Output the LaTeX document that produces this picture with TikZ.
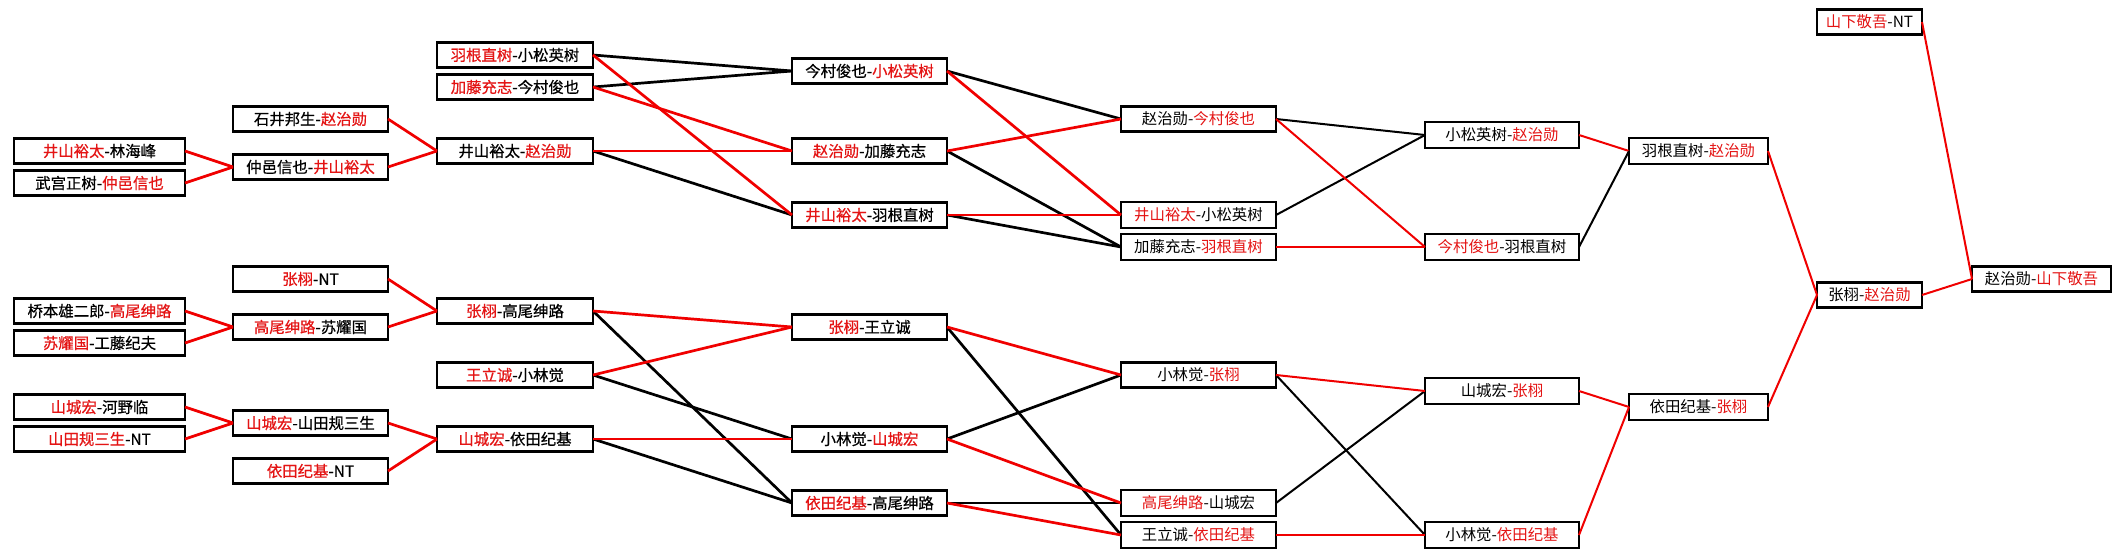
\documentclass[tikz,border=0pt]{standalone}
\usepackage{fontspec}
\newfontfamily\cjk{Noto Sans CJK SC}
\newfontfamily\cjkm{Noto Sans CJK SC}[FakeBold=0.6]
\definecolor{wred}{RGB}{228,20,20}
\definecolor{lred}{RGB}{240,0,0}
\newcommand\rd[1]{\textcolor{wred}{#1}}
\begin{document}
\begin{tikzpicture}[x=0.5pt,y=-0.5pt,
  bx/.style={draw, line width=1.4pt, inner sep=0pt, outer sep=0pt, minimum height=12.8pt,
     font=\cjkm\fontsize{7.7}{8}\selectfont, text=black},
  tb/.style={bx, line width=1pt, font=\cjk\fontsize{7.7}{8}\selectfont},
  rb/.style={bx, font=\cjk\fontsize{7.7}{8}\selectfont},
  w1/.style={minimum width=85.5pt}, w2/.style={minimum width=77.5pt},
  w3/.style={minimum width=78pt}, w4/.style={minimum width=77.5pt},
  w5/.style={minimum width=77.5pt}, w6/.style={minimum width=77pt},
  w7/.style={minimum width=69.5pt}, w8/.style={minimum width=52.5pt},
  w9/.style={minimum width=69.5pt},
  la/.style={line width=1.35pt}, lb/.style={line width=1pt},
  ra/.style={la, draw=lred}, rbl/.style={lb, draw=lred},
  ka/.style={la, draw=black}, kb/.style={lb, draw=black}]
\useasboundingbox (0,0) rectangle (2121,557);
\fill[white] (0,0) rectangle (2121,557);
% column 1
\node[bx,w1] (n11) at (99.5,151) {\rd{井山裕太}-林海峰};
\node[bx,w1] (n12) at (99.5,183) {武宫正树-\rd{仲邑信也}};
\node[bx,w1] (n13) at (99.5,311) {桥本雄二郎-\rd{高尾绅路}};
\node[bx,w1] (n14) at (99.5,343) {\rd{苏耀国}-工藤纪夫};
\node[bx,w1] (n15) at (99.5,407) {\rd{山城宏}-河野临};
\node[bx,w1] (n16) at (99.5,439) {\rd{山田规三生}-NT};
% column 2
\node[bx,w2] (n21) at (310.5,119) {石井邦生-\rd{赵治勋}};
\node[bx,w2] (n22) at (310.5,167) {仲邑信也-\rd{井山裕太}};
\node[bx,w2] (n23) at (310.5,279) {\rd{张栩}-NT};
\node[bx,w2] (n24) at (310.5,327) {\rd{高尾绅路}-苏耀国};
\node[bx,w2] (n25) at (310.5,423) {\rd{山城宏}-山田规三生};
\node[bx,w2] (n26) at (310.5,471) {\rd{依田纪基}-NT};
% column 3
\node[bx,w3] (n31) at (515,55) {\rd{羽根直树}-小松英树};
\node[bx,w3] (n32) at (515,87) {\rd{加藤充志}-今村俊也};
\node[bx,w3] (n33) at (515,151) {井山裕太-\rd{赵治勋}};
\node[bx,w3] (n34) at (515,311) {\rd{张栩}-高尾绅路};
\node[bx,w3] (n35) at (515,375) {\rd{王立诚}-小林觉};
\node[bx,w3] (n36) at (515,439) {\rd{山城宏}-依田纪基};
% column 4
\node[bx,w4] (n41) at (869.5,71) {今村俊也-\rd{小松英树}};
\node[bx,w4] (n42) at (869.5,151) {\rd{赵治勋}-加藤充志};
\node[bx,w4] (n43) at (869.5,215) {\rd{井山裕太}-羽根直树};
\node[bx,w4] (n44) at (869.5,327) {\rd{张栩}-王立诚};
\node[bx,w4] (n45) at (869.5,439) {小林觉-\rd{山城宏}};
\node[bx,w4] (n46) at (869.5,503) {\rd{依田纪基}-高尾绅路};
% column 5
\node[rb,w5] (n51) at (1198.5,119) {赵治勋-\rd{今村俊也}};
\node[tb,w5] (n52) at (1198.5,215) {\rd{井山裕太}-小松英树};
\node[tb,w5] (n53) at (1198.5,247) {加藤充志-\rd{羽根直树}};
\node[rb,w5] (n54) at (1198.5,375) {小林觉-\rd{张栩}};
\node[tb,w5] (n55) at (1198.5,503) {\rd{高尾绅路}-山城宏};
\node[tb,w5] (n56) at (1198.5,535) {王立诚-\rd{依田纪基}};
% column 6
\node[tb,w6] (n61) at (1502,135) {小松英树-\rd{赵治勋}};
\node[tb,w6] (n62) at (1502,247) {\rd{今村俊也}-羽根直树};
\node[tb,w6,line width=1.2pt] (n63) at (1502,391) {山城宏-\rd{张栩}};
\node[tb,w6,line width=1.2pt] (n64) at (1502,535) {小林觉-\rd{依田纪基}};
% column 7
\node[tb,w7] (n71) at (1698.5,151) {羽根直树-\rd{赵治勋}};
\node[tb,w7] (n72) at (1698.5,407) {依田纪基-\rd{张栩}};
% column 8
\node[rb,w8] (n81) at (1869.5,22) {\rd{山下敬吾}-NT};
\node[rb,w8] (n82) at (1869.5,295) {张栩-\rd{赵治勋}};
% column 9
\node[rb,w9] (n91) at (2041.5,279) {赵治勋-\rd{山下敬吾}};
% connectors column 1 -> 2
\draw[ra] (n11.east) -- (n22.west);
\draw[ra] (n12.east) -- (n22.west);
\draw[ra] (n13.east) -- (n24.west);
\draw[ra] (n14.east) -- (n24.west);
\draw[ra] (n15.east) -- (n25.west);
\draw[ra] (n16.east) -- (n25.west);
% column 2 -> 3
\draw[ra] (n21.east) -- (n33.west);
\draw[ra] (n22.east) -- (n33.west);
\draw[ra] (n23.east) -- (n34.west);
\draw[ra] (n24.east) -- (n34.west);
\draw[ra] (n25.east) -- (n36.west);
\draw[ra] (n26.east) -- (n36.west);
% column 3 -> 4
\draw[ka] (n31.east) -- (n41.west);
\draw[ka] (n32.east) -- (n41.west);
\draw[ka] (n33.east) -- (n43.west);
\draw[ka] (n34.east) -- (n46.west);
\draw[ka] (n35.east) -- (n45.west);
\draw[ka] (n36.east) -- (n46.west);
\draw[ra] (n31.east) -- (n43.west);
\draw[ra] (n32.east) -- (n42.west);
\draw[ra] (n33.east) -- (n42.west);
\draw[ra] (n34.east) -- (n44.west);
\draw[ra] (n35.east) -- (n44.west);
\draw[ra] (n36.east) -- (n45.west);
% column 4 -> 5
\draw[ka] (n41.east) -- (n51.west);
\draw[ka] (n42.east) -- (n53.west);
\draw[ka] (n43.east) -- (n53.west);
\draw[ka] (n44.east) -- (n56.west);
\draw[ka] (n45.east) -- (n54.west);
\draw[ka] (n46.east) -- (n55.west);
\draw[ra] (n41.east) -- (n52.west);
\draw[ra] (n42.east) -- (n51.west);
\draw[ra] (n43.east) -- (n52.west);
\draw[ra] (n44.east) -- (n54.west);
\draw[ra] (n45.east) -- (n55.west);
\draw[ra] (n46.east) -- (n56.west);
% column 5 -> 6
\draw[kb] (n51.east) -- (n61.west);
\draw[kb] (n52.east) -- (n61.west);
\draw[kb] (n54.east) -- (n64.west);
\draw[kb] (n55.east) -- (n63.west);
\draw[rbl] (n51.east) -- (n62.west);
\draw[rbl] (n53.east) -- (n62.west);
\draw[rbl] (n54.east) -- (n63.west);
\draw[rbl] (n56.east) -- (n64.west);
% column 6 -> 7
\draw[rbl] (n61.east) -- (n71.west);
\draw[kb] (n62.east) -- (n71.west);
\draw[rbl] (n63.east) -- (n72.west);
\draw[rbl] (n64.east) -- (n72.west);
% column 7 -> 8 -> 9
\draw[rbl] (n71.east) -- (n82.west);
\draw[rbl] (n72.east) -- (n82.west);
\draw[rbl] (n82.east) -- (n91.west);
\draw[rbl] (n81.east) -- (n91.west);
\end{tikzpicture}
\end{document}
